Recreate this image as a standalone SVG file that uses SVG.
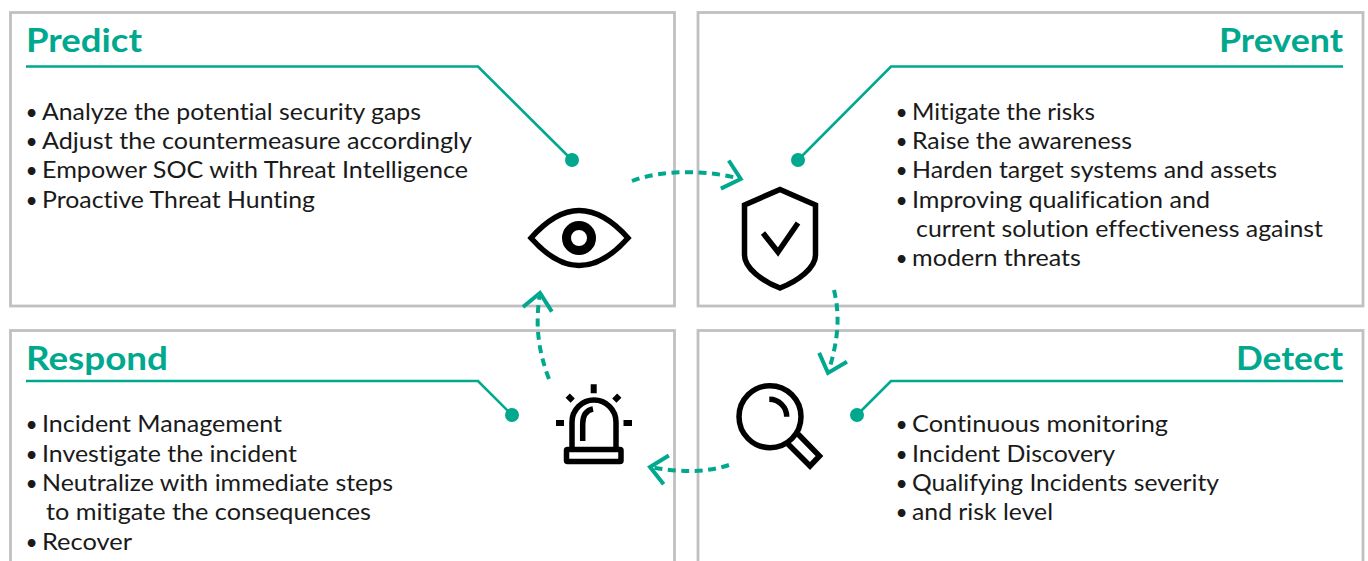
<svg xmlns="http://www.w3.org/2000/svg" width="1368" height="561" viewBox="0 0 1368 561">
<style>
.box{fill:none;stroke:#c0c0c0;stroke-width:2.8}
.lead{fill:none;stroke:#00a88e;stroke-width:2.6}
.dot{fill:#00a88e}
.title{font:700 33px Lato,"Noto Sans",sans-serif;fill:#00a88e;font-variant-ligatures:none}
.item{font:400 24px Lato,"Noto Sans",sans-serif;fill:#1a1a1a;font-variant-ligatures:none}
.b{font-size:21px}
.ink{fill:none;stroke:#000;stroke-width:5.5}
.flow{fill:none;stroke:#00a88e;stroke-width:4;stroke-dasharray:8 5.5;marker-end:url(#chev)}
</style>
<defs>
<marker id="chev" markerUnits="userSpaceOnUse" markerWidth="40" markerHeight="40" refX="0" refY="0" orient="auto" overflow="visible">
<path d="M-16.500-14.600L0 0L-16.500 14.600" fill="none" stroke="#00a88e" stroke-width="4"/>
</marker>
</defs>
<rect width="1368" height="561" fill="#fff"/>
<g id="predict">
<rect class="box" x="10.500" y="12.500" width="664" height="293.500"/>
<path class="lead" d="M26 66.500H478L572 160"/><circle class="dot" cx="572" cy="160" r="7"/>
<text class="title" x="26" y="52" textLength="116" lengthAdjust="spacingAndGlyphs">Predict</text>
<text class="item" y="120"><tspan class="b" x="25.500">•</tspan> <tspan x="42" textLength="379" lengthAdjust="spacingAndGlyphs">Analyze the potential security gaps</tspan></text>
<text class="item" y="149"><tspan class="b" x="25.500">•</tspan> <tspan x="42" textLength="430" lengthAdjust="spacingAndGlyphs">Adjust the countermeasure accordingly</tspan></text>
<text class="item" y="178"><tspan class="b" x="25.500">•</tspan> <tspan x="42" textLength="426" lengthAdjust="spacingAndGlyphs">Empower SOC with Threat Intelligence</tspan></text>
<text class="item" y="208"><tspan class="b" x="25.500">•</tspan> <tspan x="42" textLength="273" lengthAdjust="spacingAndGlyphs">Proactive Threat Hunting</tspan></text>
</g>
<g id="prevent">
<rect class="box" x="698" y="12.500" width="665" height="293.500"/>
<path class="lead" d="M1343 66.500H891L798 160"/><circle class="dot" cx="798" cy="160" r="7"/>
<text class="title" x="1219" y="52" textLength="124" lengthAdjust="spacingAndGlyphs">Prevent</text>
<text class="item" y="120"><tspan class="b" x="895.500">•</tspan> <tspan x="912" textLength="183" lengthAdjust="spacingAndGlyphs">Mitigate the risks</tspan></text>
<text class="item" y="149"><tspan class="b" x="895.500">•</tspan> <tspan x="912" textLength="220" lengthAdjust="spacingAndGlyphs">Raise the awareness</tspan></text>
<text class="item" y="178"><tspan class="b" x="895.500">•</tspan> <tspan x="912" textLength="365" lengthAdjust="spacingAndGlyphs">Harden target systems and assets</tspan></text>
<text class="item" y="208"><tspan class="b" x="895.500">•</tspan> <tspan x="912" textLength="298" lengthAdjust="spacingAndGlyphs">Improving qualification and</tspan></text>
<text class="item" x="916" y="237" textLength="407" lengthAdjust="spacingAndGlyphs">current solution effectiveness against</text>
<text class="item" y="266"><tspan class="b" x="895.500">•</tspan> <tspan x="912" textLength="169" lengthAdjust="spacingAndGlyphs">modern threats</tspan></text>
</g>
<g id="respond">
<rect class="box" x="10.500" y="330.500" width="664" height="245"/>
<path class="lead" d="M26 381H478L512 415"/><circle class="dot" cx="512" cy="415" r="7"/>
<text class="title" x="26" y="370" textLength="142" lengthAdjust="spacingAndGlyphs">Respond</text>
<text class="item" y="432"><tspan class="b" x="25.500">•</tspan> <tspan x="42" textLength="240" lengthAdjust="spacingAndGlyphs">Incident Management</tspan></text>
<text class="item" y="462"><tspan class="b" x="25.500">•</tspan> <tspan x="42" textLength="255" lengthAdjust="spacingAndGlyphs">Investigate the incident</tspan></text>
<text class="item" y="491"><tspan class="b" x="25.500">•</tspan> <tspan x="42" textLength="351" lengthAdjust="spacingAndGlyphs">Neutralize with immediate steps</tspan></text>
<text class="item" x="46" y="520" textLength="325" lengthAdjust="spacingAndGlyphs">to mitigate the consequences</text>
<text class="item" y="550"><tspan class="b" x="25.500">•</tspan> <tspan x="42" textLength="90" lengthAdjust="spacingAndGlyphs">Recover</tspan></text>
</g>
<g id="detect">
<rect class="box" x="698" y="330.500" width="665" height="245"/>
<path class="lead" d="M1343 381H891L857 415"/><circle class="dot" cx="857" cy="415" r="7"/>
<text class="title" x="1236" y="370" textLength="107" lengthAdjust="spacingAndGlyphs">Detect</text>
<text class="item" y="432"><tspan class="b" x="895.500">•</tspan> <tspan x="912" textLength="256" lengthAdjust="spacingAndGlyphs">Continuous monitoring</tspan></text>
<text class="item" y="462"><tspan class="b" x="895.500">•</tspan> <tspan x="912" textLength="203" lengthAdjust="spacingAndGlyphs">Incident Discovery</tspan></text>
<text class="item" y="491"><tspan class="b" x="895.500">•</tspan> <tspan x="912" textLength="307" lengthAdjust="spacingAndGlyphs">Qualifying Incidents severity</tspan></text>
<text class="item" y="520"><tspan class="b" x="895.500">•</tspan> <tspan x="912" textLength="141" lengthAdjust="spacingAndGlyphs">and risk level</tspan></text>
</g>
<g id="icon-eye">
<path class="ink" d="M531 238C547 220 563 210.500 579 210.500C595 210.500 612 220 628 238C612 256 595 265.500 579 265.500C563 265.500 547 256 531 238Z"/>
<circle cx="579" cy="238" r="12.500" fill="none" stroke="#000" stroke-width="9"/>
</g>
<g id="icon-shield">
<path class="ink" d="M780 189.500L815.500 205V255C815.500 268 798 281 780 288C762 281 744.500 268 744.500 255V205Z"/>
<path class="ink" d="M763 233L778 252L798 223"/>
</g>
<g id="icon-magnifier">
<circle class="ink" cx="770" cy="416.700" r="31"/>
<path class="ink" d="M769.300 399.300A17.400 17.400 0 0 1 786.700 416.700"/>
<path class="ink" d="M798 434L819.500 456L810 466L788 444"/>
</g>
<g id="icon-siren">
<rect class="ink" x="566.500" y="449.500" width="54.500" height="12" rx="1"/>
<path class="ink" d="M572 449V422A22 22 0 0 1 616 422V449"/>
<path class="ink" d="M582.700 441V424Q582.700 411 593 409"/>
<path d="M593.700 384.300V393.300M556 423H564M623.500 423H632M567.700 395.700L572.700 400.700M619.300 395.700L614.300 400.700" fill="none" stroke="#000" stroke-width="6"/>
</g>
<g id="connectors">
<path class="flow" d="M632 181C660 170 706 169.300 740.700 179"/>
<path class="flow" d="M834 290C840 315 838.700 339.700 828 373"/>
<path class="flow" d="M729 465C705 473 679.500 472.300 650 467"/>
<path class="flow" d="M549 379C538 350 535 324.600 540 293"/>
</g>
</svg>
